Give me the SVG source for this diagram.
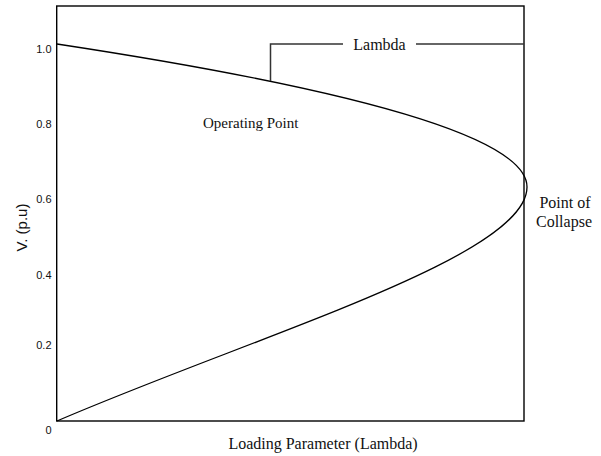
<svg xmlns="http://www.w3.org/2000/svg" width="601" height="456" viewBox="0 0 601 456">
<style>
.tick{font-family:"Liberation Sans",Arial,sans-serif;font-size:11px;fill:#111;text-anchor:end}
.lbl{font-family:"Liberation Serif","Times New Roman",serif;font-size:16px;fill:#111}
.ax{font-family:"Liberation Sans",Arial,sans-serif;font-size:15px;fill:#111}
.frame{fill:none;stroke:#000;stroke-width:1.4}
.curve{fill:none;stroke:#000;stroke-width:1.3}
.conn{fill:none;stroke:#333;stroke-width:1.5}
</style>
<rect width="601" height="456" fill="#fff"/>
<g id="plot-frame">
<rect class="frame" x="56.7" y="6" width="467.3" height="415"/>
</g>
<g id="y-ticks">
<text class="tick" x="51.5" y="52.5">1.0</text>
<text class="tick" x="51.5" y="128">0.8</text>
<text class="tick" x="51.5" y="202.5">0.6</text>
<text class="tick" x="51.5" y="279">0.4</text>
<text class="tick" x="51.5" y="349">0.2</text>
<text class="tick" x="51.5" y="434">0</text>
</g>
<g id="y-axis-label">
<text class="ax" text-anchor="middle" transform="translate(27,227.5) rotate(-90)">V. (p.u)</text>
</g>
<g id="x-axis-label">
<text class="lbl" x="323" y="449" text-anchor="middle">Loading Parameter (Lambda)</text>
</g>
<g id="pv-curve">
<path class="curve" d="M57,44 Q527,115.5 527,187 C527,257 257,335 57,421"/>
</g>
<g id="connectors">
<polyline class="conn" points="270.5,81 270.5,44 343,44"/>
<line class="conn" x1="416" y1="44" x2="524" y2="44"/>
</g>
<g id="lambda-label">
<text class="lbl" x="379.5" y="49.5" text-anchor="middle">Lambda</text>
</g>
<g id="operating-point">
<text class="lbl" x="203" y="127.5" style="font-size:15px">Operating Point</text>
</g>
<g id="point-of-collapse">
<text class="lbl" x="565" y="208" text-anchor="middle">Point of</text>
<text class="lbl" x="564" y="227" text-anchor="middle">Collapse</text>
</g>
</svg>
